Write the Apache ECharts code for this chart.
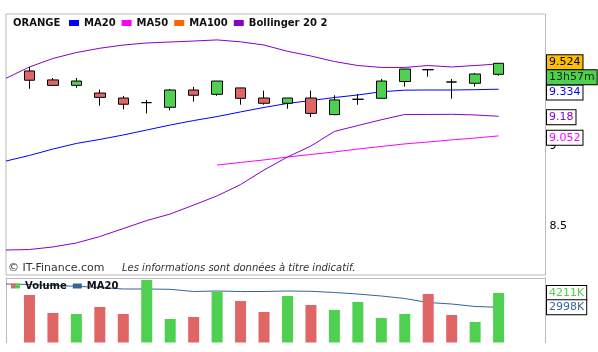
<!DOCTYPE html>
<html><head><meta charset="utf-8">
<script src="https://cdn.jsdelivr.net/npm/echarts@6/dist/echarts.min.js"></script>
<style>html,body{margin:0;padding:0;background:#fff}#c{width:598px;height:352px}</style>
</head><body><div id="c"></div>
<script>
// ---- data ----
const sessions = ['0','1','2','3','4','5','6','7','8','9','10','11','12','13','14','15','16','17','18','19','20','21','22','23'];
// [open, close, low, high]
const candles = [null,
 [9.469, 9.411, 9.358, 9.494],
 [9.413, 9.379, 9.379, 9.425],
 [9.379, 9.406, 9.364, 9.425],
 [9.331, 9.304, 9.252, 9.352],
 [9.300, 9.261, 9.229, 9.313],
 [9.271, 9.271, 9.204, 9.288],
 [9.242, 9.350, 9.223, 9.356],
 [9.350, 9.317, 9.277, 9.369],
 [9.323, 9.406, 9.314, 9.406],
 [9.363, 9.298, 9.258, 9.363],
 [9.300, 9.267, 9.258, 9.346],
 [9.267, 9.300, 9.233, 9.300],
 [9.300, 9.204, 9.181, 9.346],
 [9.196, 9.288, 9.192, 9.317],
 [9.292, 9.292, 9.258, 9.325],
 [9.298, 9.406, 9.298, 9.419],
 [9.403, 9.481, 9.371, 9.481],
 [9.477, 9.477, 9.433, 9.477],
 [9.400, 9.400, 9.296, 9.419],
 [9.392, 9.450, 9.371, 9.456],
 [9.448, 9.517, 9.439, 9.517],
 null, null];
const ma20 = [8.906, 8.941, 8.981, 9.016, 9.041, 9.069, 9.100, 9.131, 9.159, 9.184, 9.213, 9.241, 9.266, 9.284, 9.303, 9.319, 9.339, 9.349, 9.350, 9.350, 9.352, 9.355, null, null];
const ma50 = [null, null, null, null, null, null, null, null, null, 8.881, 8.897, 8.913, 8.931, 8.947, 8.963, 8.981, 8.997, 9.013, 9.025, 9.038, 9.050, 9.063, null, null];
const ma100 = [];
const bollUp = [9.423, 9.494, 9.547, 9.584, 9.611, 9.631, 9.644, 9.650, 9.656, 9.663, 9.651, 9.631, 9.592, 9.5625, 9.528, 9.503, 9.491, 9.491, 9.503, 9.494, 9.503, 9.513, null, null];
const bollLow = [8.350, 8.353, 8.369, 8.394, 8.434, 8.484, 8.534, 8.575, 8.631, 8.688, 8.759, 8.850, 8.931, 9.000, 9.091, 9.128, 9.164, 9.197, 9.197, 9.198, 9.194, 9.186, null, null];
// volumes in thousands
const volumes = [null, 4042, 2510, 2425, 3021, 2425, 5319, 2000, 2170, 4323, 3532, 2596, 3957, 3191, 2766, 3447, 2085, 2425, 4127, 2340, 1745, 4211, null, null];
const volMa20 = [4978, 4936, 4851, 4783, 4681, 4553, 4553, 4527, 4340, 4383, 4340, 4340, 4383, 4357, 4255, 4127, 3957, 3744, 3404, 3276, 3064, 2998, null, null];
const priceTicks = [8.5, 9, 9.5];
const lastClose = 9.524;
const timeTag = '13h57m';
const lastMa20 = 9.334;
const lastBollLow = 9.18;
const lastMa50 = 9.052;
const lastVolume = 4211;
const lastVolMa = 2998;

// ---- styles ----
const RED = '#e06666', GREEN = '#50d050', PURPLE = '#8800cc', VOLBLUE = '#336699';
const FONT = '"DejaVu Sans", Verdana, sans-serif';

function dirOf(i) {
  const c = candles[i];
  if (!c) return 0;
  if (c[1] > c[0]) return 1;
  if (c[1] < c[0]) return -1;
  let j = i - 1;
  while (j >= 0 && !candles[j]) j--;
  return (j >= 0 && candles[j][1] > c[1]) ? -1 : 1;
}

const chart = echarts.init(document.getElementById('c'), null, {renderer: 'canvas'});
const volGrad = new echarts.graphic.LinearGradient(0, 0, 1, 1, [
  {offset: 0, color: RED}, {offset: 0.5, color: RED}, {offset: 0.5, color: GREEN}, {offset: 1, color: GREEN}]);

const option = {
  animation: false,
  backgroundColor: '#fff',
  textStyle: {fontFamily: FONT},
  title: {text: 'ORANGE', left: 13, top: 17, padding: 0,
    textStyle: {fontSize: 10, fontWeight: 'bold', color: '#111', fontFamily: FONT, lineHeight: 12}},
  legend: [{
    left: 69, top: 17, padding: 0, itemGap: 6, itemWidth: 10, itemHeight: 6, icon: 'rect', selectedMode: false,
    data: ['MA20', 'MA50', 'MA100', 'Bollinger 20 2'],
    textStyle: {fontSize: 10, fontWeight: 'bold', color: '#111', fontFamily: FONT, lineHeight: 12}
  }, {
    left: 11, top: 280, padding: 0, itemGap: 6, itemWidth: 9, itemHeight: 5, icon: 'rect', selectedMode: false,
    data: ['Volume', 'MA20 (vol)'],
    formatter: n => n.replace(' (vol)', ''),
    textStyle: {fontSize: 10, fontWeight: 'bold', color: '#111', fontFamily: FONT, lineHeight: 12}
  }],
  grid: [
    {left: 6, top: 14, width: 539.5, height: 261, show: true, borderColor: '#bbb', borderWidth: 1, containLabel: false},
    {left: 6, top: 278, width: 539.5, height: 64.5, containLabel: false}
  ],
  xAxis: [
    {type: 'category', gridIndex: 0, data: sessions, boundaryGap: false,
     axisLine: {show: false}, axisTick: {show: false}, axisLabel: {show: false}, splitLine: {show: false}},
    {type: 'category', gridIndex: 1, data: sessions, boundaryGap: false, position: 'top',
     axisLine: {show: true, onZero: false, lineStyle: {color: '#bbb', width: 1}}, axisTick: {show: false}, axisLabel: {show: false}, splitLine: {show: false}}
  ],
  yAxis: [
    {type: 'value', gridIndex: 0, position: 'right', min: 8.19375, max: 9.825, scale: true,
     axisLine: {show: false}, axisTick: {show: false}, splitLine: {show: false},
     axisLabel: {customValues: priceTicks, margin: 4, fontSize: 11, color: '#000', fontFamily: FONT, formatter: v => String(v)}},
    {type: 'value', gridIndex: 1, position: 'left', min: 0, max: 5489,
     axisLine: {show: true, lineStyle: {color: '#bbb', width: 1}}, axisTick: {show: false}, axisLabel: {show: false}, splitLine: {show: false}},
    {type: 'value', gridIndex: 1, position: 'right', min: 0, max: 5489,
     axisLine: {show: true, lineStyle: {color: '#bbb', width: 1}}, axisTick: {show: false}, axisLabel: {show: false}, splitLine: {show: false}}
  ],
  series: [
    {name: 'ORANGE', type: 'candlestick', xAxisIndex: 0, yAxisIndex: 0, barWidth: 11, silent: true,
     data: candles.map(c => c ? c : '-'),
     itemStyle: {color: GREEN, color0: RED, borderColor: '#000', borderColor0: '#000', borderColorDoji: '#000', borderWidth: 1}},
    {name: 'MA20', type: 'line', data: ma20, symbol: 'none', color: '#0000ff', lineStyle: {width: 1, color: '#0000ff'}, silent: true, z: 1},
    {name: 'MA50', type: 'line', data: ma50, symbol: 'none', color: '#ff00ff', lineStyle: {width: 1, color: '#ff00ff'}, silent: true, z: 1},
    {name: 'MA100', type: 'line', data: ma100, symbol: 'none', color: '#ff6600', lineStyle: {width: 1, color: '#ff6600'}, silent: true},
    {name: 'Bollinger 20 2', type: 'line', data: bollUp, symbol: 'none', color: PURPLE, lineStyle: {width: 1, color: PURPLE}, silent: true, z: 1},
    {name: 'Bollinger 20 2', type: 'line', data: bollLow, symbol: 'none', color: PURPLE, lineStyle: {width: 1, color: PURPLE}, silent: true, z: 1},
    {name: 'Volume', type: 'bar', xAxisIndex: 1, yAxisIndex: 1, barWidth: 11, silent: true,
     itemStyle: {color: volGrad},
     data: volumes.map((v, i) => v == null ? '-' : {value: v, itemStyle: {color: dirOf(i) < 0 ? RED : GREEN}})},
    {name: 'MA20 (vol)', type: 'line', xAxisIndex: 1, yAxisIndex: 1, data: volMa20, symbol: 'none',
     color: VOLBLUE, lineStyle: {width: 1, color: VOLBLUE}, silent: true, z: 1}
  ],
  graphic: [
    {type: 'text', x: 8, y: 268, z: 50, style: {text: '\u00a9 IT-Finance.com', fill: '#333', font: '11px ' + FONT, verticalAlign: 'middle'}},
    {type: 'text', x: 122, y: 268, z: 50, style: {text: 'Les informations sont donn\u00e9es \u00e0 titre indicatif.', fill: '#333', font: 'italic 10px ' + FONT, verticalAlign: 'middle'}}
  ]
};
chart.setOption(option);

// right-hand value tags, positioned through the axes' scales
const tagX = 547;
function tag(text, y, fill, bg, z) {
  return {type: 'text', x: tagX, y: y, z: z, style: {
    text: text, fill: fill, font: '11px ' + FONT, verticalAlign: 'middle', lineHeight: 12,
    backgroundColor: bg || '#fff', borderColor: '#000', borderWidth: 1, padding: [1, 2, 1, 2]}};
}
const py = v => chart.convertToPixel({yAxisIndex: 0}, v);
const vy = v => chart.convertToPixel({yAxisIndex: 1}, v);
const closeY = py(lastClose);
const tags = [
  tag(String(lastMa20), py(lastMa20), '#0000ff', '#fff', 60),
  tag(String(lastBollLow), py(lastBollLow), PURPLE, '#fff', 61),
  tag(String(lastMa50), py(lastMa50), '#ff00ff', '#fff', 62),
  tag(lastClose.toFixed(3), closeY, '#000', '#ffbf00', 63),
  tag(timeTag, closeY + 15, '#0b2a0b', GREEN, 64),
  tag(lastVolume + 'K', vy(lastVolume), GREEN, '#fff', 65),
  tag(lastVolMa + 'K', vy(lastVolMa), VOLBLUE, '#fff', 66)
];
chart.setOption({graphic: option.graphic.concat(tags)});
</script>
</body></html>
